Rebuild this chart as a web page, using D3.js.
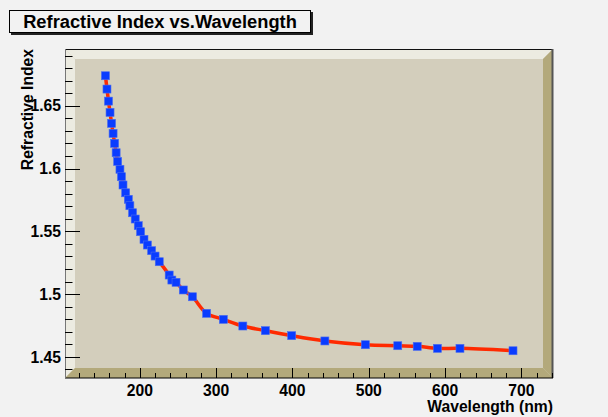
<!DOCTYPE html>
<html>
<head>
<meta charset="utf-8">
<script src="https://cdn.jsdelivr.net/npm/d3@7"></script>
<style>
  body { margin: 0; background: #f2f2f2; }
  text { font-family: "Liberation Sans", Arial, sans-serif; font-weight: bold; }
</style>
</head>
<body>
<div id="chart"></div>
<script>
// wavelength in nm
const wavelength = [155, 157, 159, 161, 163, 165, 167, 169, 171, 174,
  176, 178, 181.5, 185, 187, 190.5, 194, 198, 201, 205.5,
  210, 215.5, 220, 225.5, 238.5, 242, 247.5, 257, 269, 287.5,
  309.5, 335, 364.5, 399, 442.5, 495.5, 538, 563.5, 590, 619.5, 689];
// refractive index
const refIndex = [1.6739, 1.6633, 1.6537, 1.6447, 1.6360, 1.6280, 1.6201, 1.6126, 1.6057, 1.5994,
  1.5935, 1.5869, 1.5807, 1.5755, 1.5704, 1.5648, 1.5598, 1.5545, 1.5497, 1.5436,
  1.5391, 1.5346, 1.5303, 1.5258, 1.5152, 1.5112, 1.5094, 1.5033, 1.4979, 1.4847,
  1.4799, 1.4746, 1.4709, 1.4669, 1.4627, 1.4597, 1.4589, 1.4584, 1.4568, 1.4568, 1.4549];
const xTicks = [200, 300, 400, 500, 600, 700];
const yTicks = [1.45, 1.5, 1.55, 1.6, 1.65];

const width = 608, height = 417;
const frame = {left: 65, top: 49, right: 553, bottom: 378};
const bevel = 10;
const labelSize = 15.7;

const svg = d3.select('#chart').append('svg')
  .attr('width', width)
  .attr('height', height);

svg.append('rect').attr('width', width).attr('height', height).attr('fill', '#f2f2f2');

const x = d3.scaleLinear().domain([102, 741.4]).range([frame.left, frame.right]);
const y = d3.scaleLinear().domain([1.4332, 1.6952]).range([frame.bottom, frame.top]);

// 3d frame
const L = frame.left, T = frame.top, R = frame.right, B = frame.bottom, b = bevel;
svg.append('rect')
  .attr('x', L).attr('y', T).attr('width', R - L).attr('height', B - T)
  .attr('fill', '#d3cebc');
const poly = (pts, c) => svg.append('polygon').attr('points', pts.map(p => p.join(',')).join(' ')).attr('fill', c);
poly([[L, T], [R, T], [R - b, T + b], [L + b, T + b]], '#ecebe1');
poly([[L, T], [L + b, T + b], [L + b, B - b], [L, B]], '#ecebe1');
poly([[L, B], [L + b, B - b], [R - b, B - b], [R, B]], '#b3a97b');
poly([[R, T], [R - b, T + b], [R - b, B - b], [R, B]], '#b3a97b');
svg.append('line').attr('x1', L).attr('x2', R).attr('y1', T + 0.5).attr('y2', T + 0.5).attr('stroke', '#111');
svg.append('line').attr('x1', R - 0.5).attr('x2', R - 0.5).attr('y1', T).attr('y2', B).attr('stroke', '#555').attr('stroke-width', 2);

// axes
const xAxis = svg.append('g').attr('transform', 'translate(0,' + B + ')');
xAxis.append('line').attr('x1', L).attr('x2', R).attr('stroke', '#000');
xAxis.selectAll('.minor').data(d3.range(120, 741, 20)).enter().append('line')
  .attr('x1', d => Math.round(x(d)) + 0.5).attr('x2', d => Math.round(x(d)) + 0.5)
  .attr('y1', 0).attr('y2', d => d % 100 === 0 ? -10 : -5)
  .attr('stroke', '#000');
xAxis.selectAll('text').data(xTicks).enter().append('text')
  .attr('x', d => x(d)).attr('y', 17.5)
  .attr('text-anchor', 'middle').attr('font-size', labelSize)
  .text(d => d);

const yAxis = svg.append('g').attr('transform', 'translate(' + L + ',0)');
yAxis.append('line').attr('y1', T).attr('y2', B).attr('stroke', '#777').attr('x1', 0.5).attr('x2', 0.5);
yAxis.selectAll('.minor').data(d3.range(144, 170)).enter().append('line')
  .attr('y1', d => Math.round(y(d / 100)) + 0.5).attr('y2', d => Math.round(y(d / 100)) + 0.5)
  .attr('x1', 0).attr('x2', d => d % 5 === 0 ? 15 : 7.5)
  .attr('stroke', '#000');
yAxis.selectAll('text').data(yTicks).enter().append('text')
  .attr('x', -4).attr('y', d => y(d)).attr('dy', '0.36em')
  .attr('text-anchor', 'end').attr('font-size', labelSize)
  .text(d => d);

svg.append('text')
  .attr('x', R).attr('y', 412)
  .attr('text-anchor', 'end').attr('font-size', labelSize)
  .text('Wavelength (nm)');
svg.append('text')
  .attr('transform', 'translate(33,' + T + ') rotate(-90)')
  .attr('text-anchor', 'end').attr('font-size', labelSize)
  .text('Refractive Index');

// curve and markers
const pts = wavelength.map((w, i) => [w, refIndex[i]]);
const line = d3.line().x(d => x(d[0])).y(d => y(d[1])).curve(d3.curveCatmullRom);
svg.append('path').attr('d', line(pts))
  .attr('fill', 'none').attr('stroke', '#ff2a00').attr('stroke-width', 3.5);
svg.selectAll('.pt').data(pts).enter().append('rect')
  .attr('x', d => x(d[0]) - 4).attr('y', d => y(d[1]) - 4)
  .attr('width', 8).attr('height', 8)
  .attr('fill', '#0a3cff').attr('stroke', '#4a6cf0').attr('stroke-width', 0.6);

// title box
const title = svg.append('g');
title.append('rect').attr('x', 11).attr('y', 12).attr('width', 302).attr('height', 23).attr('fill', '#222');
title.append('rect').attr('x', 9.5).attr('y', 10.5).attr('width', 301).attr('height', 22)
  .attr('fill', '#f2f2f2').attr('stroke', '#000');
title.append('text').attr('x', 160).attr('y', 27.5)
  .attr('text-anchor', 'middle').attr('font-size', 18.3)
  .text('Refractive Index vs.Wavelength');
</script>
</body>
</html>
